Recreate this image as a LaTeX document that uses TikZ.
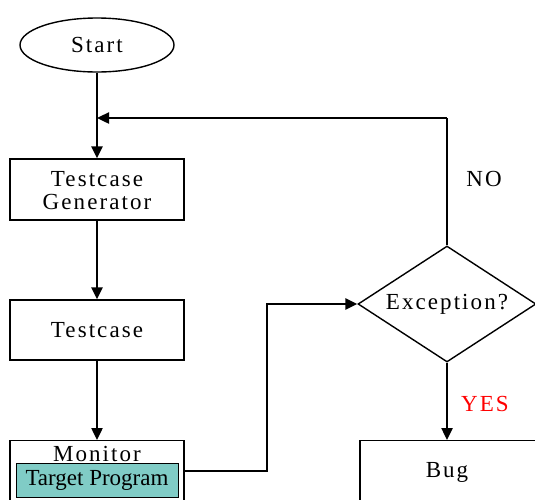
\documentclass[tikz,border=0pt]{standalone}
\usepackage{fontspec}
\setmainfont{Liberation Serif}
\newfontfamily\spaced[LetterSpace=9]{Liberation Serif}
\usetikzlibrary{shapes.geometric,arrows.meta}
\definecolor{tealfill}{HTML}{80CCC6}
\tikzset{
  box/.style={draw, line width=1.4pt, rectangle, inner sep=0pt},
  lbl/.style={font=\spaced\fontsize{23}{23}\selectfont},
  flow/.style={line width=2.4pt, -{Triangle[length=12pt,width=11pt]}},
  plain/.style={line width=2.4pt}
}
\begin{document}
\begin{tikzpicture}[x=1pt,y=-1pt]
\useasboundingbox (0,0) rectangle (535,499);
% start terminal
\node[draw, line width=1.4pt, ellipse, minimum width=154pt, minimum height=54pt, inner sep=0pt, lbl] (start) at (97,45) {\raisebox{-1.5pt}{Start}};
% process boxes
\node[box, minimum width=174pt, minimum height=61pt, lbl] (gen) at (97,189.5) {};
\node[lbl, align=center, inner sep=0pt] (genlbl) at (97,191) {Testcase\\Generator};
\node[box, minimum width=174pt, minimum height=60pt, lbl] (tc) at (97,330) {\raisebox{-1.5pt}{Testcase}};
\node[box, minimum width=174pt, minimum height=62pt, anchor=north] (mon) at (97,440) {};
\node[lbl, inner sep=0pt] (monlbl) at (97,454) {Monitor};
\node[draw, line width=1pt, fill=tealfill, minimum width=162pt, minimum height=34pt, inner sep=0pt, font=\fontsize{23}{23}\selectfont] (tp) at (97,480) {\raisebox{-2.5pt}{Target Program}};
% decision
\node[draw, line width=1.4pt, diamond, minimum width=178pt, minimum height=116pt, aspect=1.53, inner sep=0pt, lbl] (dec) at (447,304) {\raisebox{-1.5pt}{Exception?}};
\node[box, minimum width=180pt, minimum height=62pt, anchor=north, lbl] (bug) at (450,440) {};
\node[lbl, inner sep=0pt] (buglbl) at (447,472.5) {Bug};
% connectors
\coordinate (loop) at (447,118);
\coordinate (join) at (97,118);
\coordinate (mid) at (267,471);
\draw[flow] (start) -- (gen);
\draw[plain] (dec.north) -- (loop);
\draw[flow] (loop) -- (join);
\draw[flow] (gen) -- (tc);
\draw[flow] (tc) -- (mon);
\draw[flow] (mon.east |- mid) -- (mid) |- (dec.west);
\draw[flow] (dec.south) -- (dec.south |- bug.north);
% branch labels
\node[lbl] (no) at (484,179) {NO};
\node[lbl, text=red] (yes) at (485,404) {YES};
\end{tikzpicture}
\end{document}
